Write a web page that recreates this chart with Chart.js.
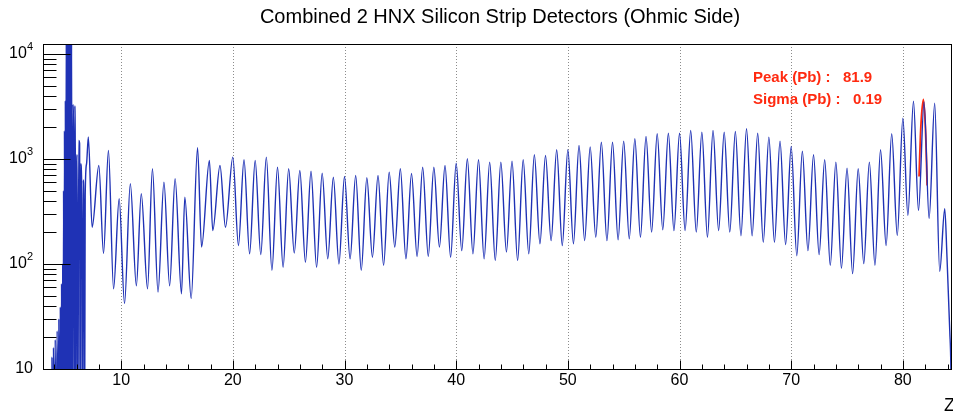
<!DOCTYPE html>
<html>
<head>
<meta charset="utf-8">
<script src="https://cdn.jsdelivr.net/npm/chart.js@4.4.1/dist/chart.umd.min.js"></script>
<style>
  html, body { margin: 0; padding: 0; background: #fff; }
  #wrap { width: 953px; height: 416px; position: relative; }
</style>
</head>
<body>
<div id="wrap"><canvas id="chartZ"></canvas></div>
<script>
'use strict';

// ---- data ----
// histogram outline: Z position and counts (empty bins = 1, they fall under the 10 floor)
const histZ = [
  3.76, 3.80, 3.84, 3.94, 3.98, 4.10, 4.14, 4.27, 4.31, 4.42, 4.46, 4.55, 4.59, 4.66, 4.70,
  4.76, 4.80, 4.84, 4.88, 4.92, 4.96, 5.00, 5.04, 5.08, 5.12, 5.16, 5.20, 5.24, 5.28, 5.32,
  5.36, 5.40, 5.44, 5.48, 5.52, 5.56, 5.60, 5.68, 5.74, 5.78, 5.84, 5.90, 5.94, 6.00, 6.06,
  6.12, 6.20, 6.28, 6.32, 6.38, 6.46, 6.52, 6.60, 6.66, 6.72, 6.78, 6.90,
  7.06, 7.40, 8.00, 8.42, 8.86, 9.32, 9.82, 10.30, 10.82, 11.36, 11.80, 12.36, 12.80, 13.30,
  13.83, 14.34, 14.83, 15.40, 15.70, 16.27, 16.84, 17.20, 17.90, 18.20, 18.85, 19.34,
  20, 20.5, 21, 21.5, 22, 22.5, 23, 23.5, 24, 24.5, 25, 25.5, 26, 26.5, 27, 27.5, 28, 28.5,
  29, 29.5, 30, 30.5, 31, 31.5, 32, 32.5, 33, 33.5, 34, 34.5, 35, 35.5, 36, 36.5, 37, 37.5,
  38, 38.5, 39, 39.5, 40, 40.5, 41, 41.5, 42, 42.5, 43, 43.5, 44, 44.5, 45, 45.5, 46, 46.5,
  47, 47.5, 48, 48.5, 49, 49.5, 50, 50.5, 51, 51.5, 52, 52.5, 53, 53.5, 54, 54.5, 55, 55.5,
  56, 56.5, 57, 57.5, 58, 58.5, 59, 59.5, 60, 60.5, 61, 61.5, 62, 62.5, 63, 63.5, 64, 64.5,
  65, 65.5, 66, 66.5, 67, 67.5, 68, 68.5, 69, 69.5, 70, 70.5, 71, 71.5, 72, 72.5, 73, 73.5,
  74, 74.5, 75, 75.5, 76, 76.5, 77, 77.5, 78, 78.5, 79, 79.5, 80, 80.45, 80.95, 81.4, 81.9,
  82.35, 82.85, 83.3, 83.75, 83.95, 84.2, 84.3, 84.38
];
const histCounts = [
  1, 13, 1, 16, 1, 19, 1, 23, 1, 30, 1, 39, 1, 65, 1,
  100, 1, 500, 1, 1860, 1, 3600, 1, 30000, 1, 30000, 1, 30000, 1, 30000,
  1, 30000, 1, 30000, 1, 30000, 1, 3300, 1200, 1, 3200, 700, 1, 650, 1100,
  1, 1500, 1400, 1, 900, 600, 1, 630, 350, 1, 450, 900,
  1620, 224, 867, 126, 1205, 58, 418, 42, 581, 62, 466, 58, 807, 54,
  601, 62, 648, 52, 432, 47, 1279, 145, 968, 208, 867, 224,
  1041, 150, 982, 125, 968, 123, 1041, 87, 835, 93, 807, 127, 777, 104, 765, 93, 732, 112,
  671, 100, 681, 112, 697, 87, 662, 116, 697, 97, 749, 145, 807, 112, 728, 118, 835, 118,
  835, 145, 867, 116, 912, 134, 1005, 125, 982, 112, 933, 108, 933, 130, 955, 108, 982, 125,
  1096, 156, 1080, 167, 1224, 150, 1224, 156, 1345, 167, 1305, 180, 1445, 167, 1445, 170, 1479, 174,
  1557, 180, 1637, 201, 1738, 212, 1761, 208, 1761, 208, 1867, 201, 1800, 180, 1867, 208, 1800, 201,
  1830, 186, 1940, 186, 1761, 161, 1614, 161, 1479, 153, 1315, 120, 1187, 134, 1096, 123, 982, 97,
  933, 91, 817, 81, 807, 101, 933, 97, 1224, 150, 1738, 187, 2447, 290, 3550, 323, 3500,
  271, 3400, 85, 336, 117, 23, 10, 1
];

// gaussian fit on the Pb peak (red)
const fitZ = [81.45, 81.57, 81.66, 81.84, 81.99, 82.08, 82.17];
const fitCounts = [680, 1620, 2500, 3690, 2300, 1300, 560];

const xMajorTicks = [10, 20, 30, 40, 50, 60, 70, 80];
const xMinorTicks = [4, 6, 8, 12, 14, 16, 18, 22, 24, 26, 28, 32, 34, 36, 38, 42, 44, 46, 48,
  52, 54, 56, 58, 62, 64, 66, 68, 72, 74, 76, 78, 82, 84];
const yMajorTicks = [10, 100, 1000, 10000];
const yMajorExp = ['', '2', '3', '4'];
const yMinorTicks = [20, 30, 40, 50, 60, 70, 80, 90, 200, 300, 400, 500, 600, 700, 800, 900,
  2000, 3000, 4000, 5000, 6000, 7000, 8000, 9000];

const titleText = 'Combined 2 HNX Silicon Strip Detectors (Ohmic Side)';
const fitLines = ['Peak (Pb) :   81.9', 'Sigma (Pb) :   0.19'];

const FONT = '"Liberation Sans", Arial, Helvetica, sans-serif';

// ROOT style frame, ticks and texts drawn via the chart scales
const rootFrame = {
  id: 'rootFrame',
  beforeDatasetsDraw(chart) {
    const { ctx, chartArea: a, scales: { x } } = chart;
    ctx.save();
    ctx.strokeStyle = '#8c8c8c';
    ctx.lineWidth = 1;
    ctx.setLineDash([1, 2]);
    xMajorTicks.forEach(v => {
      const px = Math.round(x.getPixelForValue(v)) + 0.5;
      ctx.beginPath();
      ctx.moveTo(px, a.top);
      ctx.lineTo(px, a.bottom);
      ctx.stroke();
    });
    ctx.restore();
  },
  afterDatasetsDraw(chart) {
    const { ctx, chartArea: a, scales: { x, y } } = chart;
    const L = Math.round(a.left) + 0.5, R = Math.round(a.right) - 0.5;
    const T = Math.round(a.top) + 0.5, B = Math.round(a.bottom) + 0.5;
    ctx.save();
    ctx.strokeStyle = '#000';
    ctx.lineWidth = 1;
    ctx.strokeRect(L, T, R - L, B - T);

    ctx.beginPath();
    xMajorTicks.forEach(v => {
      const px = Math.round(x.getPixelForValue(v)) + 0.5;
      ctx.moveTo(px, B); ctx.lineTo(px, B - 9);
    });
    xMinorTicks.forEach(v => {
      const px = Math.round(x.getPixelForValue(v)) + 0.5;
      ctx.moveTo(px, B); ctx.lineTo(px, B - 5);
    });
    yMajorTicks.forEach(v => {
      const py = Math.round(y.getPixelForValue(v)) + 0.5;
      ctx.moveTo(L, py); ctx.lineTo(L + 27, py);
    });
    yMinorTicks.forEach(v => {
      const py = Math.round(y.getPixelForValue(v)) + 0.5;
      ctx.moveTo(L, py); ctx.lineTo(L + 13, py);
    });
    ctx.stroke();

    // tick labels
    ctx.fillStyle = '#000';
    ctx.font = '16px ' + FONT;
    ctx.textAlign = 'center';
    ctx.textBaseline = 'middle';
    xMajorTicks.forEach(v => ctx.fillText(String(v), x.getPixelForValue(v), 381));

    yMajorTicks.forEach((v, i) => {
      const py = y.getPixelForValue(v);
      const sup = yMajorExp[i];
      ctx.font = '11px ' + FONT;
      const sw = sup ? ctx.measureText(sup).width : 0;
      if (sup) {
        ctx.textAlign = 'right';
        ctx.fillText(sup, 33, py - 7);
      }
      ctx.font = '16px ' + FONT;
      ctx.textAlign = 'right';
      ctx.fillText('10', 33 - sw, py);
    });

    // axis title
    ctx.font = '18px ' + FONT;
    ctx.textAlign = 'left';
    ctx.fillText('Z', 944, 406);

    // title
    ctx.font = '20px ' + FONT;
    ctx.textAlign = 'center';
    ctx.fillText(titleText, 500, 17);

    // fit results
    ctx.fillStyle = '#ff2a10';
    ctx.font = 'bold 15px ' + FONT;
    ctx.textAlign = 'left';
    ctx.fillText(fitLines[0], 753, 78);
    ctx.fillText(fitLines[1], 753, 100);
    ctx.restore();
  }
};

const ctx = document.getElementById('chartZ').getContext('2d');
new Chart(ctx, {
  type: 'line',
  data: {
    datasets: [{
      label: 'Z',
      data: histZ.map((z, i) => ({ x: z, y: histCounts[i] })),
      borderColor: '#1f32b5',
      borderWidth: 1.4,
      pointRadius: 0,
      cubicInterpolationMode: 'monotone',
      fill: false
    }, {
      label: 'fit',
      data: fitZ.map((z, i) => ({ x: z, y: fitCounts[i] })),
      borderColor: '#ff2a10',
      borderWidth: 1.8,
      pointRadius: 0,
      cubicInterpolationMode: 'monotone',
      fill: false
    }]
  },
  options: {
    responsive: true,
    maintainAspectRatio: false,
    animation: false,
    events: [],
    layout: { padding: { left: 43, right: 1, top: 44, bottom: 47 } },
    plugins: { legend: { display: false }, tooltip: { enabled: false }, title: { display: false } },
    scales: {
      x: { type: 'linear', display: false, min: 3, max: 84.4 },
      y: { type: 'logarithmic', display: false, min: 10, max: 12450 }
    }
  },
  plugins: [rootFrame]
});
</script>
</body>
</html>
